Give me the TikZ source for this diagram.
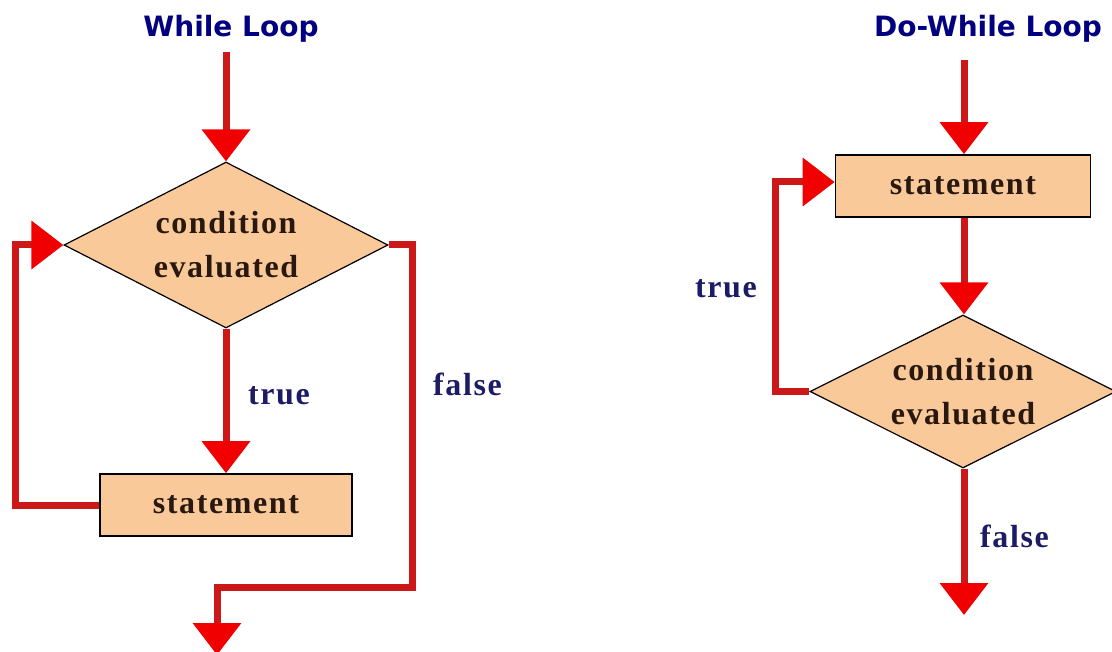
\documentclass[tikz,border=0pt]{standalone}
\usepackage{fontspec}
\setmainfont{Liberation Serif}
\newfontfamily\titlefont{DejaVu Sans}
\newfontfamily\boxfont[LetterSpace=5]{Liberation Serif}
\usetikzlibrary{arrows.meta,shapes.geometric}
\definecolor{linered}{RGB}{204,24,24}
\definecolor{tipred}{RGB}{240,0,0}
\definecolor{boxfill}{RGB}{249,201,153}
\definecolor{navy}{RGB}{0,0,128}
\definecolor{labnavy}{RGB}{28,28,100}
\definecolor{textdark}{RGB}{40,24,16}
\tikzset{
  flow/.style={draw=linered, line width=7pt, line join=miter,
    -{Triangle[width=47pt,length=32pt,color=tipred,fill=tipred]}},
  cond/.style={shape=diamond, aspect=2, draw=black, line width=1.2pt, fill=boxfill,
    inner sep=0pt, align=center, text=textdark,
    font=\boxfont\bfseries\fontsize{32}{44}\selectfont},
  stmt/.style={shape=rectangle, draw=black, line width=1.6pt, fill=boxfill,
    inner sep=0pt, text=textdark,
    font=\boxfont\bfseries\fontsize{32}{44}\selectfont},
  lab/.style={text=labnavy, inner sep=0pt,
    font=\boxfont\bfseries\fontsize{32}{40}\selectfont},
  title/.style={text=navy, inner sep=0pt, font=\titlefont\bfseries\fontsize{28}{32}\selectfont}
}
\begin{document}
\begin{tikzpicture}[x=1pt,y=-1pt]
\useasboundingbox (0,0) rectangle (1112,652);
\clip (0,0) rectangle (1112,652);
% ---------- While loop ----------
\node[title, anchor=base] (t1) at (231,37) {While Loop};
\coordinate (in1) at (226,52);
\node[cond, minimum width=324, minimum height=166] (d1) at (226,245) {condition\\evaluated};
\node[stmt, minimum width=252, minimum height=62] (s1) at (226,505) {statement};
\coordinate (l1) at (15,505);
\coordinate (r1) at (412,587);
\coordinate (out1) at (217,655);
\draw[flow] (in1) -- (d1.north);
\draw[flow] (d1.south) -- (s1.north);
\draw[flow] (s1.west) -- (l1) |- (d1.west);
\draw[flow] (d1.east) -| (r1) -| (out1);
\node[lab, anchor=base west] (tr1) at (248,405) {true};
\node[lab, anchor=base west] (fa1) at (433,396) {false};
% ---------- Do-While loop ----------
\node[title, anchor=base] (t2) at (988,37) {Do-While Loop};
\coordinate (in2) at (964,60);
\node[stmt, minimum width=255, minimum height=62] (s2) at (963,186) {statement};
\node[cond, minimum width=306, minimum height=153] (d2) at (963,391.5) {condition\\evaluated};
\coordinate (l2) at (775,182);
\coordinate (out2) at (964,615);
\draw[flow] (in2) -- (in2 |- s2.north);
\draw[flow] (s2.south -| in2) -- (in2 |- d2.north);
\draw[flow] (d2.west) -| (l2) -- (s2.west |- l2);
\draw[flow] (in2 |- d2.south) -- (out2);
\node[lab, anchor=base west] (tr2) at (695,298) {true};
\node[lab, anchor=base west] (fa2) at (980,547) {false};
\end{tikzpicture}
\end{document}
